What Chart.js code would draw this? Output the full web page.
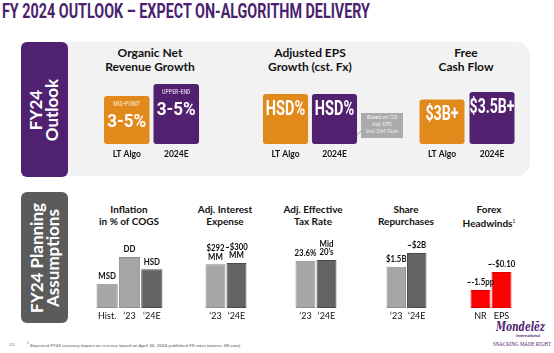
<!DOCTYPE html>
<html><head><meta charset="utf-8">
<script src="https://cdn.jsdelivr.net/npm/chart.js@4.4.1/dist/chart.umd.min.js"></script>
<style>
html,body{margin:0;padding:0;background:#fff;}
body{width:554px;height:353px;position:relative;overflow:hidden;font-family:Lato,"Open Sans",sans-serif;}
.abs{position:absolute;}
#title{left:2px;top:2px;font-family:Roboto,sans-serif;font-weight:bold;font-size:19.5px;line-height:20px;color:#4B1F6F;white-space:nowrap;transform-origin:0 0;}
#topPanel{left:21px;top:42px;width:509px;height:134px;background:#F2F2F2;border-radius:4px 14px 14px 4px;}
.side{display:flex;align-items:center;justify-content:center;color:#fff;font-weight:bold;border-radius:6px;}
.side span{transform:rotate(-90deg);white-space:nowrap;text-align:center;line-height:16px;font-size:17px;}
#side1{left:21px;top:42px;width:47px;height:135px;background:#4F2170;}
#side2{left:21px;top:192px;width:47px;height:131px;background:#5B5B5B;}
.htop{font-weight:bold;font-size:12px;line-height:14px;text-align:center;color:#111;white-space:nowrap;transform:translateX(-50%);}
.hbot{font-weight:bold;font-size:10px;line-height:12px;text-align:center;color:#111;white-space:nowrap;transform:translateX(-50%);}
#note{left:361px;top:113px;width:42px;height:25px;background:#ABABAB;color:#F0F0F0;font-size:5.3px;line-height:7px;text-align:center;padding-top:1px;box-sizing:border-box;font-family:Lato,sans-serif;}
#foot{left:27px;top:341px;font-size:4.6px;color:#555;white-space:nowrap;}
#pg{left:9px;top:341px;font-size:4.6px;color:#777;}
#logo{left:492px;top:320px;width:62px;color:#4F2170;line-height:0;}
.fit{display:inline-block;white-space:nowrap;transform-origin:0 0;}
#logo .fit{display:block;width:max-content;}
canvas{position:absolute;}
</style></head>
<body>
<div id="title" class="abs fit" data-w="368">FY 2024 OUTLOOK – EXPECT ON-ALGORITHM DELIVERY</div>
<div id="topPanel" class="abs"></div>
<div id="side1" class="abs side"><span>FY24<br>Outlook</span></div>
<div id="side2" class="abs side"><span>FY24 Planning<br>Assumptions</span></div>

<div class="abs htop" style="left:150px;top:46px;">Organic Net<br>Revenue Growth</div>
<div class="abs htop" style="left:310px;top:46px;">Adjusted EPS<br>Growth (cst. Fx)</div>
<div class="abs htop" style="left:466px;top:46px;">Free<br>Cash Flow</div>

<div class="abs hbot" style="left:129px;top:203px;">Inflation<br>in % of COGS</div>
<div class="abs hbot" style="left:225px;top:203px;">Adj. Interest<br>Expense</div>
<div class="abs hbot" style="left:313px;top:203px;">Adj. Effective<br>Tax Rate</div>
<div class="abs hbot" style="left:406px;top:203px;">Share<br>Repurchases</div>
<div class="abs hbot" style="left:489px;top:203px;">Forex<br>Headwinds<sup style="font-size:5px;font-weight:normal;">1</sup></div>

<svg class="abs" style="left:355px;top:125px;" width="10" height="12"><line x1="2" y1="10" x2="8" y2="4" stroke="#888" stroke-width="0.8"/></svg>
<div id="note" class="abs">Based on ‘23<br>Adj. EPS<br>incl. DM Gum</div>

<div id="pg" class="abs">23</div>
<div id="foot" class="abs"><sup style="font-size:3.5px">1</sup> Expected FY24 currency impact on revenue based on April 24, 2024 published FX rates (source: XE.com)</div>
<div id="logo" class="abs">
  <div class="fit" data-w="49" style="margin-left:4px;font-family:'DejaVu Serif',serif;font-weight:bold;font-style:italic;font-size:13px;line-height:13px;">Mondelēz</div>
  <div class="fit" data-w="24" style="margin-left:24px;font-size:4.5px;line-height:5px;font-weight:bold;">International</div>
  <div class="fit" data-w="58" style="margin-left:1px;margin-top:2px;font-family:'Liberation Serif',serif;font-size:7px;line-height:8px;">SNACKING MADE RIGHT</div>
</div>

<script>
// ---------- DATA ----------
const onrLabels = ['LT Algo', '2024E'];
const onrValues = [4, 5];               // mid-point vs upper-end of 3-5%
const onrSub = ['MID-POINT', 'UPPER-END'];
const onrText = ['3-5%', '3-5%'];

const epsLabels = ['LT Algo', '2024E'];
const epsValues = [7, 7];               // HSD%
const epsText = ['HSD%', 'HSD%'];

const fcfLabels = ['LT Algo', '2024E'];
const fcfValues = [3, 3.5];             // $B
const fcfText = ['$3B+', '$3.5B+'];

const inflLabels = ['Hist.', '‘23', '‘24E'];
const inflValues = [5, 10.5, 8];        // MSD, DD, HSD
const inflText = [['MSD'], ['DD'], ['HSD']];

const intLabels = ['‘23', '‘24E'];
const intValues = [292, 300];           // $MM
const intText = [['$292', 'MM'], ['~$300', 'MM']];

const taxLabels = ['‘23', '‘24E'];
const taxValues = [23.6, 24];           // %
const taxText = [['23.6%'], ['Mid', '20’s']];

const shrLabels = ['‘23', '‘24E'];
const shrValues = [1.5, 2];             // $B
const shrText = [['$1.5B'], ['~$2B']];

const fxLabels = ['NR', 'EPS'];
const fxNR = 1.5;                       // ~-1.5pp
const fxEPS = 0.10;                     // ~-$0.10
const fxText = [['~-1.5pp'], ['~-$0.10']];

// ---------- STYLE ----------
const ORANGE = '#E2891C', PURPLE = '#51206F';
const LIGHT = '#A6A6A6', LIGHTB = '#8E8E8E', DARK = '#636363', DARKB = '#4A4A4A', RED = '#FF0000', REDB = '#E00000';
const BOXF = 'Roboto, sans-serif';

document.querySelectorAll('.fit').forEach(el => {
  const w = el.getBoundingClientRect().width;
  const t = parseFloat(el.dataset.w);
  el.style.transform = 'scaleX(' + (t / w) + ')';
});

function makeCanvas(left, top, w, h) {
  const c = document.createElement('canvas');
  c.width = w; c.height = h;
  c.style.left = left + 'px'; c.style.top = top + 'px';
  c.style.width = w + 'px'; c.style.height = h + 'px';
  document.body.appendChild(c);
  return c;
}

function squeezedText(ctx, txt, x, y, sx) {
  ctx.save();
  ctx.translate(x, y);
  ctx.scale(sx, 1);
  ctx.fillText(txt, 0, 0);
  ctx.restore();
}

const textPlugin = {
  id: 'barText',
  afterDatasetsDraw(chart) {
    const o = chart.options.plugins.barText;
    if (!o) return;
    const ctx = chart.ctx;
    const multi = chart.data.datasets.length > 1;
    chart.data.datasets.forEach((ds, di) => {
      const meta = chart.getDatasetMeta(di);
      meta.data.forEach((bar, i) => {
        if (ds.data[i] == null) return;
        const p = bar.getProps(['x', 'y', 'base', 'width'], true);
        ctx.save();
        ctx.textAlign = 'center';
        ctx.textBaseline = 'middle';
        if (o.mode === 'inside') {
          const sub = o.sub ? o.sub[i] : null;
          if (sub) {
            ctx.fillStyle = o.subColor[i];
            ctx.font = 'bold 6.5px ' + BOXF;
            squeezedText(ctx, sub, p.x, p.y + 8.5, 0.8);
          }
          ctx.fillStyle = '#fff';
          ctx.font = 'bold ' + o.size[i] + 'px ' + BOXF;
          squeezedText(ctx, o.text[i], p.x, p.y + (sub ? 26 : 16), o.sx[i]);
        } else {
          const lines = o.text[multi ? di : i];
          ctx.fillStyle = '#111';
          ctx.font = 'bold 8.5px Lato, sans-serif';
          ctx.textBaseline = 'bottom';
          for (let k = 0; k < lines.length; k++) {
            squeezedText(ctx, lines[k], p.x, p.y - 3 - (lines.length - 1 - k) * 8.5, 0.92);
          }
        }
        ctx.restore();
      });
    });
  }
};

function barChart(opt) {
  const pad = opt.pad || 0;
  const h = opt.base - opt.plotTop + opt.axisH;
  const c = makeCanvas(opt.left - pad, opt.plotTop, opt.width + 2 * pad, h);
  const scales = {
    x: {
      grid: { display: false, drawTicks: false }, border: { display: false },
      ticks: { color: '#111', font: opt.tickFont, padding: opt.tickPad, autoSkip: false, maxRotation: 0 },
      afterFit: s => { s.height = opt.axisH; }
    }
  };
  Object.assign(scales, opt.scalesY);
  return new Chart(c, {
    type: 'bar',
    data: { labels: opt.labels, datasets: opt.datasets },
    options: {
      responsive: false, animation: false,
      layout: { padding: { left: pad, right: pad, top: 0, bottom: 0 } },
      plugins: { legend: { display: false }, tooltip: { enabled: false }, barText: opt.text },
      scales
    },
    plugins: [textPlugin]
  });
}

const yHidden = (max, id) => ({ [id || 'y']: { display: false, min: 0, max } });
const topTick = { family: 'Lato, sans-serif', weight: 'bold', size: 8.5 };
const botTick = { family: 'Lato, sans-serif', size: 9 };

// ---- Top: outlook boxes ----
barChart({ left: 102, plotTop: 74, base: 144, width: 99, axisH: 16, tickPad: 5, tickFont: topTick,
  labels: onrLabels,
  datasets: [{ data: onrValues, backgroundColor: [ORANGE, PURPLE], borderRadius: 3, borderSkipped: false, barPercentage: 0.92, categoryPercentage: 1 }],
  scalesY: yHidden(5 * 70 / 60),
  text: { mode: 'inside', text: onrText, sub: onrSub, subColor: ['#F7D9A8', '#CBB8DD'], size: [18, 18], sx: [0.95, 0.95] } });

barChart({ left: 261, plotTop: 74, base: 144, width: 98, axisH: 16, tickPad: 5, tickFont: topTick,
  labels: epsLabels,
  datasets: [{ data: epsValues, backgroundColor: [ORANGE, PURPLE], borderRadius: 3, borderSkipped: false, barPercentage: 0.92, categoryPercentage: 1 }],
  scalesY: yHidden(7 * 70 / 50),
  text: { mode: 'inside', text: epsText, size: [21, 21], sx: [0.69, 0.69] } });

barChart({ left: 416.5, plotTop: 74, base: 144, width: 100, axisH: 16, tickPad: 5, tickFont: topTick,
  labels: fcfLabels,
  datasets: [{ data: fcfValues, backgroundColor: [ORANGE, PURPLE], borderRadius: 3, borderSkipped: false, barPercentage: 0.9, categoryPercentage: 1 }],
  scalesY: yHidden(3.5 * 70 / 52),
  text: { mode: 'inside', text: fcfText, size: [19.5, 19.5], sx: [0.73, 0.72] } });

// ---- Bottom: planning assumptions ----
const gray3 = { backgroundColor: [LIGHT, LIGHT, DARK], borderColor: [LIGHTB, LIGHTB, DARKB], borderWidth: 1, borderSkipped: false, barPercentage: 0.95, categoryPercentage: 1 };
const gray2 = { backgroundColor: [LIGHT, DARK], borderColor: [LIGHTB, DARKB], borderWidth: 1, borderSkipped: false, barPercentage: 0.95, categoryPercentage: 1 };

barChart({ left: 96, plotTop: 240, base: 308, width: 67, pad: 14, axisH: 18, tickPad: 3, tickFont: botTick,
  labels: inflLabels, datasets: [Object.assign({ data: inflValues }, gray3)],
  scalesY: yHidden(10.5 * 68 / 51), text: { mode: 'above', text: inflText } });

barChart({ left: 204.5, plotTop: 230, base: 308, width: 42, pad: 14, axisH: 18, tickPad: 3, tickFont: botTick,
  labels: intLabels, datasets: [Object.assign({ data: intValues }, gray2)],
  scalesY: yHidden(300 * 78 / 45), text: { mode: 'above', text: intText } });

barChart({ left: 294.5, plotTop: 230, base: 308, width: 42, pad: 14, axisH: 18, tickPad: 3, tickFont: botTick,
  labels: taxLabels, datasets: [Object.assign({ data: taxValues }, gray2)],
  scalesY: yHidden(24 * 78 / 48), text: { mode: 'above', text: taxText } });

barChart({ left: 385.5, plotTop: 230, base: 308, width: 41, pad: 14, axisH: 18, tickPad: 3, tickFont: botTick,
  labels: shrLabels, datasets: [Object.assign({ data: shrValues }, gray2)],
  scalesY: yHidden(2 * 78 / 55), text: { mode: 'above', text: shrText } });

barChart({ left: 469.5, plotTop: 240, base: 308, width: 42, pad: 14, axisH: 18, tickPad: 3, tickFont: botTick,
  labels: fxLabels,
  datasets: [
    { data: [fxNR, null], yAxisID: 'y', grouped: false, backgroundColor: RED, borderColor: REDB, borderWidth: 1, borderSkipped: false, barPercentage: 0.95, categoryPercentage: 1 },
    { data: [null, fxEPS], yAxisID: 'y2', grouped: false, backgroundColor: RED, borderColor: REDB, borderWidth: 1, borderSkipped: false, barPercentage: 0.95, categoryPercentage: 1 }
  ],
  scalesY: Object.assign(yHidden(1.5 * 68 / 18, 'y'), yHidden(0.10 * 68 / 36, 'y2')),
  text: { mode: 'above', text: fxText } });
</script>
</body></html>
